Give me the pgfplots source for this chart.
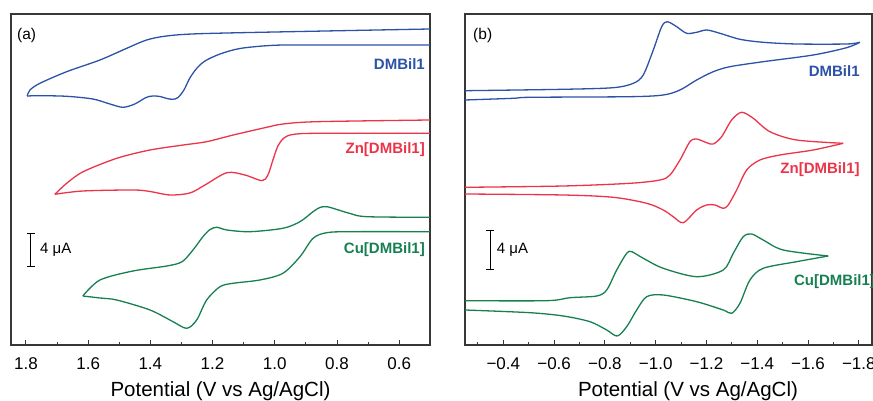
\documentclass[border=0pt]{standalone}
\usepackage{pgfplots}
\pgfplotsset{compat=1.18}
\usepackage{fontspec}
\setmainfont{Liberation Sans}
\definecolor{cvblue}{RGB}{44,82,168}
\definecolor{cvred}{RGB}{236,52,72}
\definecolor{cvgreen}{RGB}{22,128,80}
\definecolor{axgray}{RGB}{55,55,55}
\tikzset{lbl/.style={inner sep=0pt, font=\bfseries\fontsize{15}{18}\selectfont}}
\begin{document}
\begin{tikzpicture}
\useasboundingbox (0pt,0pt) rectangle (873pt,401pt);
\pgfplotsset{cvaxis/.style={
  scale only axis, height=331pt, anchor=south,
  x dir=reverse, ymin=0, ymax=331,
  ytick=\empty, xtick pos=bottom, tick align=inside,
  axis line style={axgray, line width=1.2pt},
  major tick length=5pt, minor tick length=3pt,
  every tick/.style={axgray, line width=0.9pt},
  tick label style={font=\fontsize{17}{20}\selectfont, text=black},
  xticklabel style={yshift=-9pt},
  xlabel style={font=\fontsize{20.5}{24}\selectfont, at={(axis description cs:0.5,0)}, anchor=center, yshift=-46pt},
  xlabel={Potential (V vs Ag/AgCl)},
  clip=false,
  every axis plot/.append style={line width=1.3pt, smooth, no marks},
}}
% ---------------- panel (a) ----------------
\begin{axis}[cvaxis, at={(220.5pt,56pt)}, width=419pt,
  xmin=0.501, xmax=1.848,
  xtick={0.6,0.8,1.0,1.2,1.4,1.6,1.8},
  xticklabels={0.6,0.8,1.0,1.2,1.4,1.6,1.8},
  minor xtick={0.7,0.9,1.1,1.3,1.5,1.7}]
% DMBil1
\addplot[cvblue] coordinates {(0.501,316) (0.919,313.5) (1.241,311.3) (1.348,309) (1.412,305) (1.476,296.7) (1.562,285) (1.669,273.3) (1.755,261.7) (1.787,255) (1.796,249)};
\addplot[cvblue] coordinates {(1.796,249) (1.755,249.3) (1.669,248.7) (1.585,246) (1.530,241) (1.488,237.7) (1.450,241) (1.414,247.5) (1.392,249) (1.369,248.5) (1.347,246.5) (1.327,245.7) (1.311,247.5) (1.292,255) (1.273,267) (1.250,277) (1.2245,284) (1.176,291) (1.112,296.5) (1.0155,299.5) (0.919,300) (0.501,300)};
% Zn[DMBil1]
\addplot[cvred] coordinates {(0.501,225) (0.865,223.3) (0.973,221) (1.026,217.7) (1.1335,210) (1.219,203.3) (1.294,200) (1.401,195) (1.508,186.7) (1.616,173.3) (1.669,161.7) (1.707,150.7)};
\addplot[cvred] coordinates {(1.707,150.7) (1.617,154) (1.456,155) (1.401,153.5) (1.337,150) (1.273,152) (1.2245,160) (1.154,172.3) (1.096,170) (1.041,164.3) (1.022,170) (1.006,185) (0.990,199) (0.9705,207) (0.942,210.5) (0.8645,211.7) (0.501,211.7)};
% Cu[DMBil1]
\addplot[cvgreen] coordinates {(0.501,127.7) (0.704,128.3) (0.758,131.5) (0.790,134.5) (0.832,138.3) (0.855,137.5) (0.877,133.3) (0.919,123.3) (0.974,116.7) (1.080,113.3) (1.154,115) (1.186,117.7) (1.208,115.5) (1.231,108.3) (1.263,95) (1.298,83.3) (1.347,79) (1.456,74) (1.562,65) (1.617,49)};
\addplot[cvgreen] coordinates {(1.617,49) (1.562,47) (1.508,45) (1.401,35) (1.327,23.3) (1.283,16.7) (1.251,25) (1.219,45) (1.176,58.3) (1.1345,61.7) (1.048,65) (0.974,71.7) (0.919,88.3) (0.877,106.7) (0.833,112.3) (0.758,113.3) (0.501,113.3)};
\node[lbl, text=cvblue, anchor=east] at (axis cs:0.517,280.5) {DMBil1};
\node[lbl, text=cvred, anchor=east] at (axis cs:0.517,195) {Zn[DMBil1]};
\node[lbl, text=cvgreen, anchor=east] at (axis cs:0.517,95.5) {Cu[DMBil1]};
\node[inner sep=0pt, anchor=west, font=\fontsize{15.5}{18}\selectfont] at (axis cs:1.829,310) {(a)};
\draw[black, line width=1pt] (axis cs:1.784,78.3) -- (axis cs:1.784,111.7);
\draw[black, line width=1pt] (axis cs:1.797,78.3) -- (axis cs:1.771,78.3);
\draw[black, line width=1pt] (axis cs:1.797,111.7) -- (axis cs:1.771,111.7);
\node[inner sep=0pt, anchor=west, font=\fontsize{15}{18}\selectfont] at (axis cs:1.755,95) {4 μA};
\end{axis}
% ---------------- panel (b) ----------------
\begin{axis}[cvaxis, at={(668.5pt,56pt)}, width=407pt,
  xmin=-1.852, xmax=-0.249,
  xlabel style={xshift=19.5pt},
  xtick={-1.8,-1.6,-1.4,-1.2,-1.0,-0.8,-0.6,-0.4},
  xticklabels={−1.8,−1.6,−1.4,−1.2,−1.0,−0.8,−0.6,−0.4},
  minor xtick={-1.7,-1.5,-1.3,-1.1,-0.9,-0.7,-0.5,-0.3}]
% DMBil1
\addplot[cvblue] coordinates {(-0.249,254.3) (-0.636,255.7) (-0.833,257.3) (-0.912,261.7) (-0.951,270) (-0.9906,295) (-1.0236,318.3) (-1.0457,323.3) (-1.0827,318.3) (-1.122,311.7) (-1.1614,312.7) (-1.2008,315) (-1.2532,311.7) (-1.3319,305.7) (-1.4236,302.7) (-1.555,301) (-1.752,301) (-1.804,302.7)};
\addplot[cvblue] coordinates {(-1.804,302.7) (-1.752,297.3) (-1.6205,290) (-1.4236,283.3) (-1.2925,278.3) (-1.2268,273.3) (-1.1614,265) (-1.0957,255) (-1.0299,250) (-0.8988,248.3) (-0.5051,247.7) (-0.4394,246.7) (-0.249,245)};
% Zn[DMBil1]
\addplot[cvred] coordinates {(-0.249,157.7) (-0.636,159) (-0.899,161.7) (-1.0169,165) (-1.0563,170) (-1.0957,185) (-1.135,203.3) (-1.1614,206) (-1.2008,202.3) (-1.2268,201) (-1.2598,208.3) (-1.2992,225) (-1.3386,232.7) (-1.3843,226.7) (-1.45,213.3) (-1.555,205) (-1.7386,201.7)};
\addplot[cvred] coordinates {(-1.7386,201.7) (-1.6205,195) (-1.4894,190) (-1.4106,185) (-1.3583,175) (-1.3189,155) (-1.2858,140) (-1.2661,136.7) (-1.2335,140) (-1.2008,140) (-1.1614,135) (-1.1087,122.3) (-1.0693,128.3) (-1.0299,135) (-0.9646,141.7) (-0.833,147.7) (-0.636,150) (-0.249,151)};
% Cu[DMBil1]
\addplot[cvgreen] coordinates {(-0.249,44.3) (-0.5709,44.3) (-0.6626,47.3) (-0.7677,49) (-0.8071,55) (-0.8465,75) (-0.8858,91.7) (-0.9055,93.3) (-0.9512,86.7) (-1.0299,76.7) (-1.1614,68.3) (-1.2661,75) (-1.3055,91.7) (-1.3449,108.3) (-1.3779,111) (-1.4236,105) (-1.5024,95) (-1.6795,89)};
\addplot[cvgreen] coordinates {(-1.6795,89) (-1.555,83.3) (-1.4236,76.7) (-1.3713,65) (-1.3319,41.7) (-1.2992,31.7) (-1.2661,35) (-1.1614,43.3) (-1.0299,50) (-0.9646,48.3) (-0.9252,35) (-0.8858,18.3) (-0.8488,9) (-0.8071,15) (-0.7413,23.3) (-0.636,29) (-0.5051,32.3) (-0.249,35)};
\node[lbl, text=cvblue, anchor=east] at (axis cs:-1.804,274.2) {DMBil1};
\node[lbl, text=cvred, anchor=east] at (axis cs:-1.804,175.3) {Zn[DMBil1]};
\node[lbl, text=cvgreen, anchor=west] at (axis cs:-1.5445,63.3) {Cu[DMBil1]};
\node[inner sep=0pt, anchor=west, font=\fontsize{15.5}{18}\selectfont] at (axis cs:-0.2807,310) {(b)};
\draw[black, line width=1pt] (axis cs:-0.3476,75) -- (axis cs:-0.3476,114.3);
\draw[black, line width=1pt] (axis cs:-0.3319,75) -- (axis cs:-0.3633,75);
\draw[black, line width=1pt] (axis cs:-0.3319,114.3) -- (axis cs:-0.3633,114.3);
\node[inner sep=0pt, anchor=west, font=\fontsize{15}{18}\selectfont] at (axis cs:-0.374,95) {4 μA};
\end{axis}
\end{tikzpicture}
\end{document}
